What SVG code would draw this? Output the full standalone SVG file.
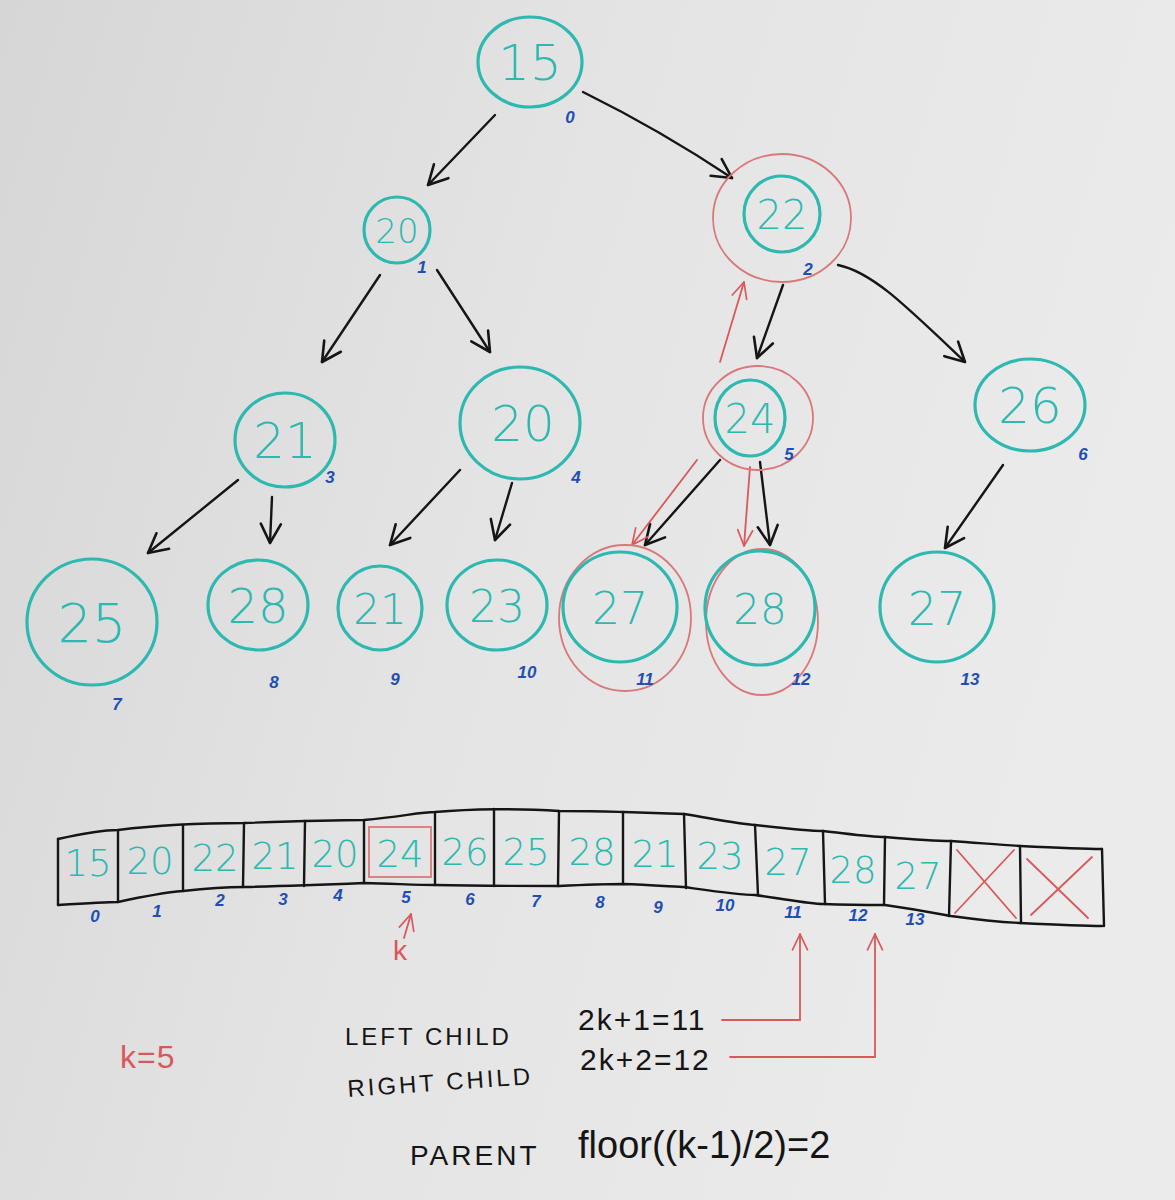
<svg xmlns="http://www.w3.org/2000/svg" width="1175" height="1200" viewBox="0 0 1175 1200">
<defs>
<linearGradient id="bg" x1="0" y1="0" x2="1" y2="0.3">
<stop offset="0" stop-color="#d6d6d6"/>
<stop offset="0.5" stop-color="#e4e4e4"/>
<stop offset="1" stop-color="#ebebeb"/>
</linearGradient>
<marker id="ah" viewBox="0 0 24 24" refX="21" refY="12" markerWidth="24" markerHeight="24" markerUnits="userSpaceOnUse" orient="auto">
<path d="M2,2 L21,12 L2,22" fill="none" stroke="#151515" stroke-width="2.6" stroke-linecap="round" stroke-linejoin="round"/>
</marker>
<marker id="ahr" viewBox="0 0 24 24" refX="21" refY="12" markerWidth="20" markerHeight="20" markerUnits="userSpaceOnUse" orient="auto">
<path d="M2,3 L21,12 L2,21" fill="none" stroke="#d9585a" stroke-width="2" stroke-linecap="round" stroke-linejoin="round"/>
</marker>
<style>
.t{fill:none;stroke:#2db8b0;stroke-width:3.2}
.r{fill:none;stroke:#d9787a;stroke-width:1.8}
.n{font-family:"DejaVu Sans","Liberation Sans",sans-serif;fill:#2db8b0;text-anchor:middle;font-weight:300}
.i{font-family:"Liberation Sans",sans-serif;fill:#1f4fb5;font-style:italic;font-weight:bold;text-anchor:middle;font-size:17px}
.bl{fill:none;stroke:#151515;stroke-width:2.4;stroke-linecap:round}
.rl{fill:none;stroke:#d9585a;stroke-width:1.8;stroke-linecap:round}
.ink{font-family:"Liberation Sans",sans-serif;fill:#151515}
.c{font-family:"DejaVu Sans","Liberation Sans",sans-serif;fill:#2db8b0;font-size:37px;text-anchor:middle;font-weight:300}
</style>
</defs>
<rect width="1175" height="1200" fill="url(#bg)"/>

<g id="connectors">
<line class="bl" x1="495" y1="115" x2="428" y2="185" marker-end="url(#ah)"/>
<path class="bl" d="M583,92 Q660,130 732,178" marker-end="url(#ah)"/>
<line class="bl" x1="380" y1="275" x2="322" y2="362" marker-end="url(#ah)"/>
<line class="bl" x1="437" y1="270" x2="490" y2="352" marker-end="url(#ah)"/>
<line class="bl" x1="783" y1="285" x2="757" y2="358" marker-end="url(#ah)"/>
<path class="bl" d="M838,265 C872,272 905,305 965,362" marker-end="url(#ah)"/>
<line class="bl" x1="238" y1="480" x2="148" y2="553" marker-end="url(#ah)"/>
<line class="bl" x1="272" y1="497" x2="270" y2="543" marker-end="url(#ah)"/>
<line class="bl" x1="460" y1="470" x2="390" y2="545" marker-end="url(#ah)"/>
<line class="bl" x1="512" y1="483" x2="495" y2="540" marker-end="url(#ah)"/>
<line class="bl" x1="720" y1="460" x2="645" y2="545" marker-end="url(#ah)"/>
<line class="bl" x1="760" y1="462" x2="770" y2="545" marker-end="url(#ah)"/>
<line class="bl" x1="1003" y1="465" x2="945" y2="548" marker-end="url(#ah)"/>
<line class="rl" x1="720" y1="362" x2="744" y2="282" marker-end="url(#ahr)"/>
<line class="rl" x1="697" y1="460" x2="632" y2="545" marker-end="url(#ahr)"/>
<line class="rl" x1="750" y1="467" x2="744" y2="546" marker-end="url(#ahr)"/>
<polyline class="rl" points="722,1020 800,1020 800,934" marker-end="url(#ahr)"/>
<polyline class="rl" points="730,1057 875,1057 875,934" marker-end="url(#ahr)"/>
</g>

<g id="node0"><ellipse class="t" cx="530" cy="62" rx="52" ry="45"/><text class="n" x="530" y="80" font-size="50">15</text><text class="i" x="570" y="123">0</text></g>
<g id="node1"><ellipse class="t" cx="397" cy="230" rx="33" ry="33"/><text class="n" x="397" y="243" font-size="34">20</text><text class="i" x="422" y="273">1</text></g>
<g id="node2"><ellipse class="r" cx="782" cy="218" rx="69" ry="64"/><ellipse class="t" cx="782" cy="214" rx="38" ry="38"/><text class="n" x="782" y="229" font-size="40">22</text><text class="i" x="808" y="275">2</text></g>
<g id="node3"><ellipse class="t" cx="285" cy="440" rx="50" ry="47"/><text class="n" x="285" y="458" font-size="50">21</text><text class="i" x="330" y="483">3</text></g>
<g id="node4"><ellipse class="t" cx="520" cy="423" rx="60" ry="56"/><text class="n" x="523" y="441" font-size="50">20</text><text class="i" x="576" y="483">4</text></g>
<g id="node5"><ellipse class="r" cx="758" cy="418" rx="55" ry="52"/><ellipse class="t" cx="750" cy="418" rx="35" ry="38"/><text class="n" x="750" y="433" font-size="40">24</text><text class="i" x="789" y="460">5</text></g>
<g id="node6"><ellipse class="t" cx="1030" cy="405" rx="55" ry="46"/><text class="n" x="1030" y="423" font-size="50">26</text><text class="i" x="1083" y="460">6</text></g>
<g id="node7"><ellipse class="t" cx="92" cy="622" rx="65" ry="63"/><text class="n" x="92" y="642" font-size="54">25</text><text class="i" x="117" y="710">7</text></g>
<g id="node8"><ellipse class="t" cx="258" cy="605" rx="50" ry="45"/><text class="n" x="258" y="623" font-size="48">28</text><text class="i" x="274" y="688">8</text></g>
<g id="node9"><ellipse class="t" cx="380" cy="608" rx="42" ry="42"/><text class="n" x="380" y="624" font-size="42">21</text><text class="i" x="395" y="685">9</text></g>
<g id="node10"><ellipse class="t" cx="497" cy="605" rx="50" ry="45"/><text class="n" x="497" y="622" font-size="44">23</text><text class="i" x="527" y="678">10</text></g>
<g id="node11"><ellipse class="r" cx="625" cy="618" rx="66" ry="73"/><ellipse class="t" cx="620" cy="607" rx="57" ry="55"/><text class="n" x="620" y="624" font-size="44">27</text><text class="i" x="645" y="685">11</text></g>
<g id="node12"><ellipse class="r" cx="762" cy="622" rx="56" ry="73"/><ellipse class="t" cx="760" cy="608" rx="55" ry="57"/><text class="n" x="760" y="624" font-size="42">28</text><text class="i" x="801" y="685">12</text></g>
<g id="node13"><ellipse class="t" cx="937" cy="607" rx="57" ry="55"/><text class="n" x="937" y="625" font-size="46">27</text><text class="i" x="970" y="685">13</text></g>

<g id="array">
<path class="bl" d="M58,839 C90,832 110,830 118,830 C150,826 200,823 244,823 C300,821 340,820 364,820 C400,817 420,812 435,812 C470,809 520,808 559,811 C600,811 620,812 623,812 C650,813 680,814 684,814 C720,820 740,824 755,825 C790,829 810,831 823,831 C850,834 870,837 885,837 C920,840 940,841 951,841 C980,843 1000,845 1020,846 C1060,848 1090,849 1102,849"/>
<path class="bl" d="M58,905 C90,903 110,902 118,902 C150,895 170,892 183,891 C210,888 230,887 244,887 C290,886 340,884 364,883 C400,884 420,885 435,885 C480,886 520,886 559,886 C600,884 620,884 623,884 C650,885 680,887 684,887 C720,892 740,895 755,895 C790,900 810,904 823,904 C850,905 870,905 885,905 C920,910 940,914 951,916 C980,920 1000,922 1020,923 C1060,925 1090,926 1102,926"/>
<g class="bl">
<line x1="58" y1="839" x2="58" y2="905"/>
<line x1="118" y1="830" x2="118" y2="902"/>
<line x1="183" y1="825" x2="183" y2="891"/>
<line x1="244" y1="823" x2="243" y2="887"/>
<line x1="305" y1="821" x2="304" y2="886"/>
<line x1="364" y1="820" x2="364" y2="883"/>
<line x1="435" y1="812" x2="435" y2="885"/>
<line x1="494" y1="809" x2="494" y2="886"/>
<line x1="559" y1="811" x2="558" y2="886"/>
<line x1="623" y1="812" x2="623" y2="884"/>
<line x1="684" y1="814" x2="686" y2="888"/>
<line x1="755" y1="825" x2="758" y2="895"/>
<line x1="823" y1="831" x2="825" y2="904"/>
<line x1="885" y1="837" x2="884" y2="905"/>
<line x1="951" y1="841" x2="949" y2="916"/>
<line x1="1020" y1="846" x2="1021" y2="923"/>
<line x1="1102" y1="849" x2="1104" y2="926"/>
</g>
<rect x="369" y="827" width="62" height="50" class="r" stroke="#d9585a" stroke-width="2.2"/>
<g class="c">
<text x="88" y="876">15</text>
<text x="150" y="874">20</text>
<text x="215" y="871">22</text>
<text x="275" y="869">21</text>
<text x="335" y="867">20</text>
<text x="400" y="867">24</text>
<text x="465" y="865">26</text>
<text x="526" y="865">25</text>
<text x="592" y="865">28</text>
<text x="655" y="867">21</text>
<text x="720" y="869">23</text>
<text x="788" y="875">27</text>
<text x="853" y="883">28</text>
<text x="918" y="889">27</text>
</g>
<g class="rl" stroke-width="2">
<line x1="955" y1="913" x2="1014" y2="850"/>
<line x1="957" y1="850" x2="1016" y2="918"/>
<line x1="1027" y1="859" x2="1088" y2="918"/>
<line x1="1031" y1="915" x2="1092" y2="857"/>
</g>
<text class="i" x="95" y="922">0</text>
<text class="i" x="157" y="917">1</text>
<text class="i" x="220" y="906">2</text>
<text class="i" x="283" y="905">3</text>
<text class="i" x="338" y="901">4</text>
<text class="i" x="406" y="903">5</text>
<text class="i" x="470" y="905">6</text>
<text class="i" x="536" y="907">7</text>
<text class="i" x="600" y="908">8</text>
<text class="i" x="658" y="913">9</text>
<text class="i" x="725" y="911">10</text>
<text class="i" x="793" y="918">11</text>
<text class="i" x="858" y="921">12</text>
<text class="i" x="915" y="925">13</text>
</g>

<g id="k-pointer">
<line class="rl" x1="404" y1="938" x2="411" y2="914" marker-end="url(#ahr)"/>
<text x="400" y="960" font-family="Liberation Sans,sans-serif" font-size="28" fill="#d9585a" text-anchor="middle">k</text>
</g>

<g id="formulas">
<text x="120" y="1068" font-family="Liberation Sans,sans-serif" font-size="32" fill="#d9585a" letter-spacing="1">k=5</text>
<text class="ink" x="345" y="1045" font-size="24" letter-spacing="3">LEFT CHILD</text>
<text class="ink" x="348" y="1097" font-size="24" letter-spacing="3" transform="rotate(-4 348 1097)">RIGHT CHILD</text>
<text class="ink" x="578" y="1030" font-size="30" letter-spacing="2">2k+1=11</text>
<text class="ink" x="580" y="1070" font-size="30" letter-spacing="2">2k+2=12</text>
<text class="ink" x="410" y="1165" font-size="28" letter-spacing="3">PARENT</text>
<text class="ink" x="578" y="1158" font-size="38">floor((k-1)/2)=2</text>
</g>
</svg>
